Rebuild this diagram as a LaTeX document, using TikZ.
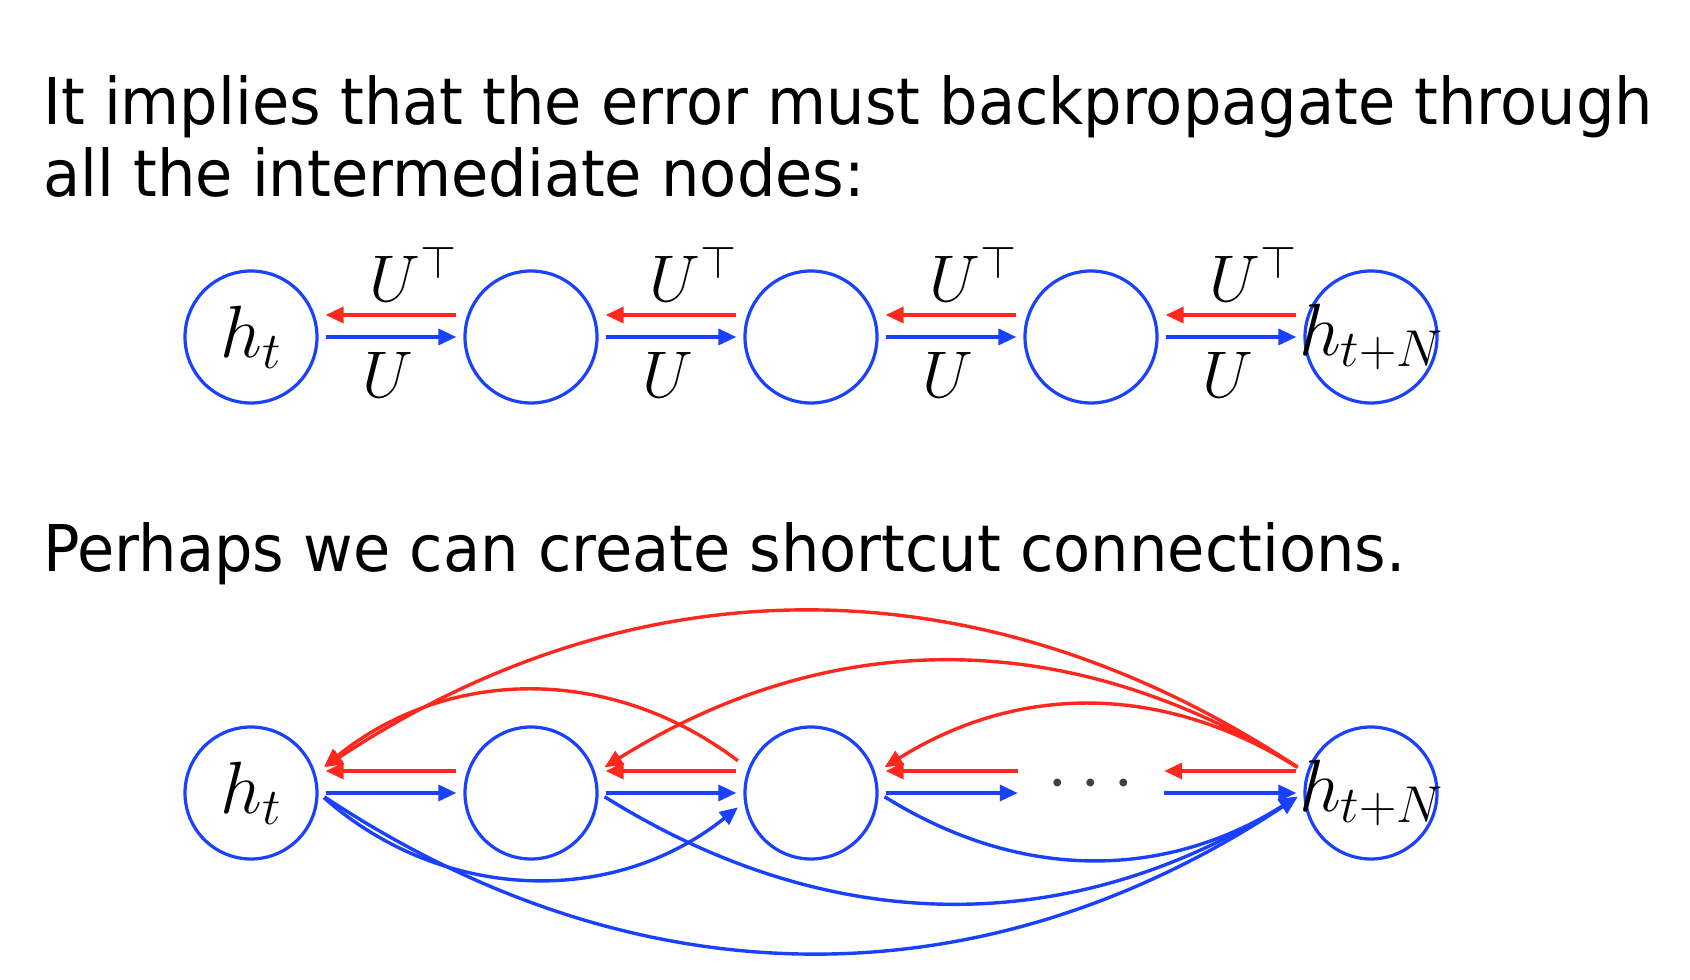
\RequirePackage{fix-cm}
\documentclass[tikz,border=0pt]{standalone}
\usepackage{fontspec}
\setmainfont{DejaVu Sans}[FakeStretch=0.94]
\usetikzlibrary{arrows.meta}
\definecolor{fwdblue}{RGB}{25,65,255}
\definecolor{bwdred}{RGB}{255,40,30}

\begin{document}
\begin{tikzpicture}[x=1pt, y=1pt,
    unit/.style={draw=fwdblue, circle, line width=3.2pt, minimum size=132pt, inner sep=0pt},
    ghost/.style={circle, minimum size=132pt, inner sep=0pt},
    fwd/.style={draw=fwdblue, line width=3.4pt, -{Triangle[length=18pt, width=16pt]}, shorten <=7pt, shorten >=7pt},
    bwd/.style={draw=bwdred, line width=3.4pt, -{Triangle[length=18pt, width=16pt]}, shorten <=7pt, shorten >=7pt},
    lbl/.style={anchor=base, inner sep=0pt, font=\fontsize{66}{70}\selectfont},
    txt/.style={anchor=base west, inner sep=0pt, font=\fontsize{64.5}{72}\selectfont},
    every label/.style={font=\fontsize{74}{78}\selectfont, inner sep=0pt}]
    \useasboundingbox (0,0) rectangle (1690,980);
    \node[txt] (l1) at (43,855) {It implies that the error must backpropagate through};
    \node[txt] (l2) at (43,783) {all the intermediate nodes:};
    \node[txt] (l3) at (43,408) {Perhaps we can create shortcut connections.};
    % chain
    \node[unit, label=center:$h_t$] (t1) at (251,643) {}; \node[unit] (t2) at (531,643) {}; \node[unit] (t3) at (811,643) {}; \node[unit] (t4) at (1091,643) {}; \node[unit, label=center:$h_{t+N}$] (t5) at (1371,643) {};
    \draw[bwd] ([yshift=22pt]t2.west) -- ([yshift=22pt]t1.east); \draw[fwd] (t1) -- (t2);
    \draw[bwd] ([yshift=22pt]t3.west) -- ([yshift=22pt]t2.east); \draw[fwd] (t2) -- (t3);
    \draw[bwd] ([yshift=22pt]t4.west) -- ([yshift=22pt]t3.east); \draw[fwd] (t3) -- (t4);
    \draw[bwd] ([yshift=22pt]t5.west) -- ([yshift=22pt]t4.east); \draw[fwd] (t4) -- (t5);
    \node[lbl] (ut1) at (413,678) {$U^{\top}$}; \node[lbl] (u1) at (388,582) {$U$};
    \node[lbl] (ut2) at (693,678) {$U^{\top}$}; \node[lbl] (u2) at (668,582) {$U$};
    \node[lbl] (ut3) at (973,678) {$U^{\top}$}; \node[lbl] (u3) at (948,582) {$U$};
    \node[lbl] (ut4) at (1253,678) {$U^{\top}$}; \node[lbl] (u4) at (1228,582) {$U$};
    % shortcuts
    \node[unit, label=center:$h_t$] (b1) at (251,187) {}; \node[unit] (b2) at (531,187) {}; \node[unit] (b3) at (811,187) {}; \node[ghost, label={[text=black!75, yshift=8pt]center:$\cdots$}] (b4) at (1091,187) {}; \node[unit, label=center:$h_{t+N}$] (b5) at (1371,187) {};
    \draw[bwd] ([yshift=22pt]b2.west) -- ([yshift=22pt]b1.east); \draw[fwd] (b1) -- (b2);
    \draw[bwd] ([yshift=22pt]b3.west) -- ([yshift=22pt]b2.east); \draw[fwd] (b2) -- (b3);
    \draw[bwd] ([yshift=22pt]b4.west) -- ([yshift=22pt]b3.east); \draw[fwd] (b3) -- (b4);
    \draw[bwd] ([yshift=22pt]b5.west) -- ([yshift=22pt]b4.east); \draw[fwd] (b4) -- (b5);
    \draw[bwd] ([yshift=22pt]b5.west) to[bend right=33.5] ([yshift=22pt]b1.east);
    \draw[bwd] ([yshift=22pt]b5.west) to[bend right=32] ([yshift=22pt]b2.east);
    \draw[bwd] ([yshift=22pt]b5.west) to[bend right=32] ([yshift=22pt]b3.east);
    \draw[bwd] ([yshift=28pt]b3.west) to[bend right=38] ([yshift=22pt]b1.east);
    \draw[fwd] (b1.east) to[bend right=40] ([yshift=-10pt]b3.west);
    \draw[fwd] (b1.east) to[bend right=33.5] (b5.west);
    \draw[fwd] (b2.east) to[bend right=32] (b5.west);
    \draw[fwd] (b3.east) to[bend right=32] (b5.west);
\end{tikzpicture}
\end{document}
